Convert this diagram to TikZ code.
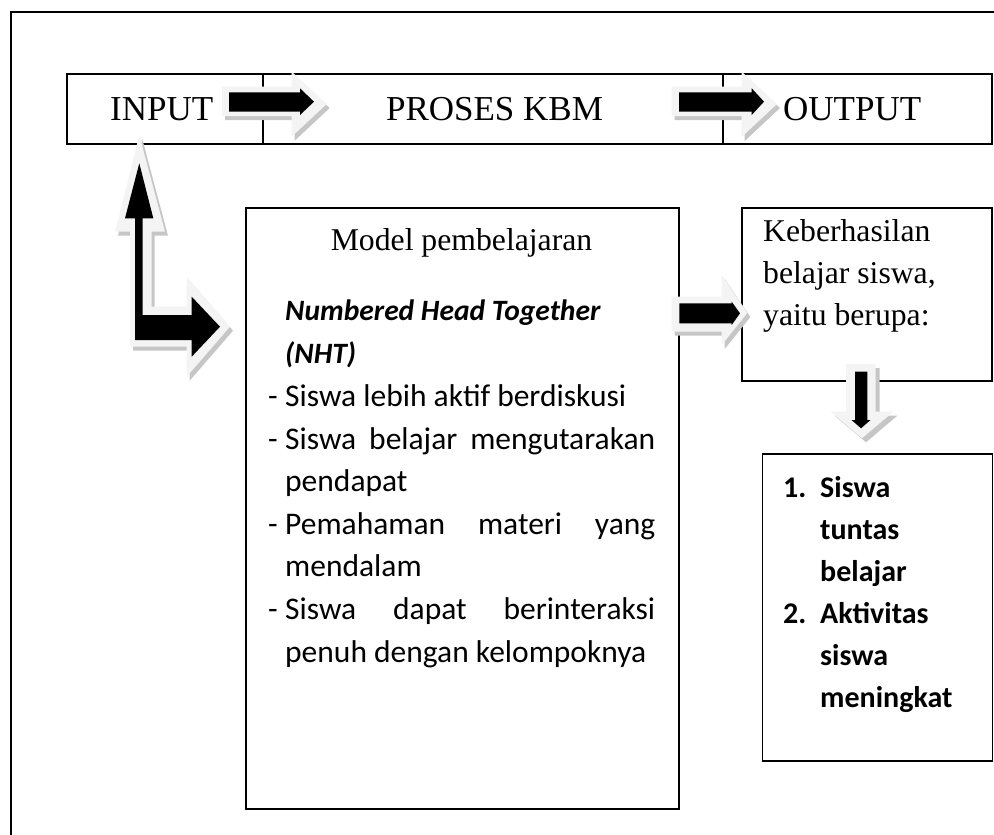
\documentclass[tikz,border=0pt]{standalone}
\usepackage{fontspec}
\setmainfont{Liberation Serif}
\newfontfamily\calfont{Carlito}
\begin{document}
\begin{tikzpicture}[x=1pt,y=-1pt,
  box/.style={draw, line width=1.6pt, inner sep=0pt},
  arrlight/.style={fill=gray!9},
  arrshadow/.style={fill=gray!45},
  arrcore/.style={fill=black},
  tnr/.style={font=\fontsize{31.7}{42.5}\selectfont, inner sep=0pt},
  tnrbig/.style={font=\fontsize{35}{42.5}\selectfont, inner sep=0pt},
  cal/.style={font=\calfont\fontsize{31.5}{42}\selectfont, inner sep=0pt},
  calbi/.style={font=\calfont\bfseries\itshape\fontsize{29.5}{42}\selectfont, inner sep=0pt},
  calb/.style={font=\calfont\bfseries\fontsize{30}{42}\selectfont, inner sep=0pt}]
\useasboundingbox (0,0) rectangle (994,835);
% outer frame
\draw[line width=1.6pt] (11,835) -- (11,12) -- (994,12);
% top bar
\node[box, anchor=north west, minimum width=925pt, minimum height=70pt] (bar) at (66,73) {};
\draw[line width=1.6pt] (263,73) -- (263,143);
\draw[line width=1.6pt] (723,73) -- (723,143);
\node[tnrbig, anchor=base west] (input) at (110,120) {INPUT};
\node[tnrbig, anchor=base] (proses) at (494.5,120) {PROSES KBM};
\node[tnrbig, anchor=base west] (output) at (783,120) {OUTPUT};
% boxes
\node[box, anchor=north west, minimum width=433pt, minimum height=601pt] (model) at (245,207) {};
\node[box, anchor=north west, minimum width=250pt, minimum height=173pt] (hasil) at (741,207) {};
\node[box, anchor=north west, minimum width=230pt, minimum height=307pt] (list) at (761.5,453) {};
% model text
\node[tnr, anchor=base] (mtitle) at (461.5,250) {Model pembelajaran};
\node[calbi, anchor=base west] (nht1) at (285,320) {Numbered Head Together};
\node[calbi, anchor=base west] (nht2) at (285,363) {(NHT)};
\node[cal, anchor=base west] (d1) at (268,406) {-};
\node[cal, anchor=base west] (l1) at (285,406) {Siswa lebih aktif berdiskusi};
\node[cal, anchor=base west] (d2) at (268,449) {-};
\node[cal, anchor=base west] (l2) at (285,449) {\makebox[370pt][s]{Siswa belajar mengutarakan}};
\node[cal, anchor=base west] (l3) at (285,491) {pendapat};
\node[cal, anchor=base west] (d4) at (268,534) {-};
\node[cal, anchor=base west] (l4) at (285,534) {\makebox[370pt][s]{Pemahaman materi yang}};
\node[cal, anchor=base west] (l5) at (285,576) {mendalam};
\node[cal, anchor=base west] (d6) at (268,619) {-};
\node[cal, anchor=base west] (l6) at (285,619) {\makebox[370pt][s]{Siswa dapat berinteraksi}};
\node[cal, anchor=base west] (l7) at (285,662) {penuh dengan kelompoknya};
% hasil text
\node[tnr, anchor=base west] (h1) at (763,241) {Keberhasilan};
\node[tnr, anchor=base west] (h2) at (763,283) {belajar siswa,};
\node[tnr, anchor=base west] (h3) at (763,325) {yaitu berupa:};
% output list
\node[calb, anchor=base west] (n1) at (783,497) {1.};
\node[calb, anchor=base west] (o1) at (820,497) {Siswa};
\node[calb, anchor=base west] (o2) at (820,539) {tuntas};
\node[calb, anchor=base west] (o3) at (820,581) {belajar};
\node[calb, anchor=base west] (n2) at (783,623) {2.};
\node[calb, anchor=base west] (o4) at (820,623) {Aktivitas};
\node[calb, anchor=base west] (o5) at (820,665) {siswa};
\node[calb, anchor=base west] (o6) at (820,707) {meningkat};
% arrow 1 (INPUT -> PROSES)
\fill[arrshadow, shift={(3,4)}] (222,86.7) -- (291.7,86.7) -- (291.7,71.7) -- (326.7,104) -- (291.7,136.7) -- (291.7,116) -- (222,116) -- cycle;
\fill[arrlight] (222,86.7) -- (291.7,86.7) -- (291.7,71.7) -- (326.7,104) -- (291.7,136.7) -- (291.7,116) -- (222,116) -- cycle;
\fill[arrcore] (229,92.3) -- (300,92.3) -- (300,88.3) -- (314,101.7) -- (300,115) -- (300,111.7) -- (229,111.7) -- cycle;
% arrow 2 (PROSES -> OUTPUT)
\fill[arrshadow, shift={(3,4)}] (671.7,86.7) -- (741.7,86.7) -- (741.7,71.7) -- (777,104) -- (741.7,137) -- (741.7,116) -- (671.7,116) -- cycle;
\fill[arrlight] (671.7,86.7) -- (741.7,86.7) -- (741.7,71.7) -- (777,104) -- (741.7,137) -- (741.7,116) -- (671.7,116) -- cycle;
\fill[arrcore] (679,92.3) -- (751.7,92.3) -- (751.7,88.3) -- (764,101.7) -- (751.7,115) -- (751.7,111.7) -- (679,111.7) -- cycle;
% arrow 3 (model -> hasil)
\fill[arrshadow, shift={(3,4)}] (671.7,296.7) -- (721.7,296.7) -- (721.7,275) -- (747.3,313) -- (721.7,345) -- (721.7,331.7) -- (671.7,331.7) -- cycle;
\fill[arrlight] (671.7,296.7) -- (721.7,296.7) -- (721.7,275) -- (747.3,313) -- (721.7,345) -- (721.7,331.7) -- (671.7,331.7) -- cycle;
\fill[arrcore] (679.3,303.3) -- (731.7,303.3) -- (731.7,301.7) -- (740,313.3) -- (731.7,325) -- (731.7,323.3) -- (679.3,323.3) -- cycle;
% arrow 4 (hasil -> list)
\fill[arrshadow, shift={(4,4)}] (846,364) -- (875.7,364) -- (875.7,411.7) -- (893.3,411.7) -- (862,438.3) -- (830.7,411.7) -- (846,411.7) -- cycle;
\fill[arrlight] (846,364) -- (875.7,364) -- (875.7,411.7) -- (893.3,411.7) -- (862,438.3) -- (830.7,411.7) -- (846,411.7) -- cycle;
\fill[arrcore] (855,371.7) -- (867.3,371.7) -- (867.3,420) -- (870.5,420) -- (861,428.3) -- (851.5,420) -- (855,420) -- cycle;
% L arrow (input <-> model)
\fill[arrshadow, shift={(3,4)}] (139.3,135) -- (165,231.7) -- (151.7,231.7) -- (151.7,306.7) -- (186.7,306.7) -- (186.7,276.7) -- (230,326.7) -- (186.7,376.7) -- (186.7,346.7) -- (130,346.7) -- (130,231.7) -- (115,231.7) -- cycle;
\fill[arrlight] (139.3,135) -- (165,231.7) -- (151.7,231.7) -- (151.7,306.7) -- (186.7,306.7) -- (186.7,276.7) -- (230,326.7) -- (186.7,376.7) -- (186.7,346.7) -- (130,346.7) -- (130,231.7) -- (115,231.7) -- cycle;
\fill[arrcore] (139.3,163.3) -- (153.3,218.3) -- (142.7,218.3) -- (142.7,315) -- (191.7,315) -- (191.7,296.7) -- (220,326.7) -- (191.7,356.7) -- (191.7,340) -- (135,340) -- (135,218.3) -- (125,218.3) -- cycle;
\end{tikzpicture}
\end{document}
